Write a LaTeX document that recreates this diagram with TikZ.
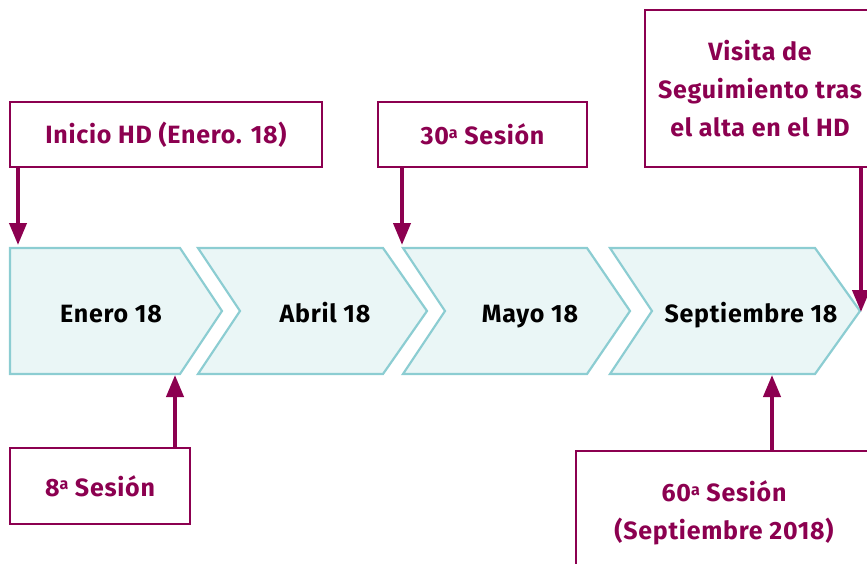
\documentclass[tikz,border=0pt]{standalone}
\usepackage{fontspec}
\setmainfont[LetterSpace=3]{Fira Sans}
\usetikzlibrary{arrows.meta}
\definecolor{mag}{RGB}{140,0,80}
\definecolor{chevline}{RGB}{140,205,210}
\definecolor{chevfill}{RGB}{234,246,246}
\newcommand{\ordA}{\raisebox{0.5ex}{\fontsize{16}{16}\selectfont a}}
\begin{document}
\begin{tikzpicture}[x=1pt,y=-1pt,
  box/.style={draw=mag, line width=2.5pt, fill=white, text=mag, font=\fontsize{25}{38}\selectfont\bfseries, align=center, inner sep=0pt},
  chev/.style={draw=chevline, fill=chevfill, line width=2.2pt, line join=miter},
  lbl/.style={font=\fontsize{25}{29}\selectfont\bfseries, text=black, inner sep=0pt, anchor=base},
  arr/.style={draw=mag, line width=4pt, -{Triangle[length=22pt,width=17pt]}}]
\useasboundingbox (0,0) rectangle (867,564);
\clip (0,0) rectangle (867,564);
% chevrons
\draw[chev] (10,248) -- (180,248) -- (222,311) -- (180,374) -- (10,374) -- cycle;
\draw[chev] (198,248) -- (383,248) -- (427,311) -- (383,374) -- (198,374) -- (240,311) -- cycle;
\draw[chev] (403,248) -- (587,248) -- (630,311) -- (587,374) -- (403,374) -- (445,311) -- cycle;
\draw[chev] (610,248) -- (815,248) -- (860,311) -- (815,374) -- (610,374) -- (652,311) -- cycle;
\node[lbl] (c1) at (111,322) {Enero 18};
\node[lbl] (c2) at (325,322) {Abril 18};
\node[lbl] (c3) at (530,322) {Mayo 18};
\node[lbl] (c4) at (751,322) {Septiembre 18};
% boxes
\node[box, minimum width=312pt, minimum height=65pt] (inicio) at (166,134.5) {\raisebox{-2pt}{Inicio HD (Enero. 18)}};
\node[box, minimum width=209pt, minimum height=65pt] (s30) at (482.5,134.5) {30\ordA{} Sesión};
\node[box, minimum width=230pt, minimum height=157pt] (visita) at (760,88.5) {\raisebox{-2pt}{Visita de}\\\raisebox{-2pt}{Seguimiento tras}\\\raisebox{-2pt}{el alta en el HD}};
\node[box, minimum width=180pt, minimum height=76pt] (s8) at (100,486) {8\ordA{} Sesión};
\node[box, minimum width=296pt, minimum height=124pt] (s60) at (724,513) {60\ordA{} Sesión\\(Septiembre 2018)};
% arrow targets
\coordinate (t1) at (18,245);
\coordinate (t2) at (402,245);
\coordinate (t3) at (861,312);
\coordinate (t4) at (175,375);
\coordinate (t5) at (772,375);
\draw[arr] (inicio.south -| t1) -- (t1);
\draw[arr] (s30.south -| t2) -- (t2);
\draw[arr] (visita.south -| t3) -- (t3);
\draw[arr] (s8.north -| t4) -- (t4);
\draw[arr] (s60.north -| t5) -- (t5);
\end{tikzpicture}
\end{document}
